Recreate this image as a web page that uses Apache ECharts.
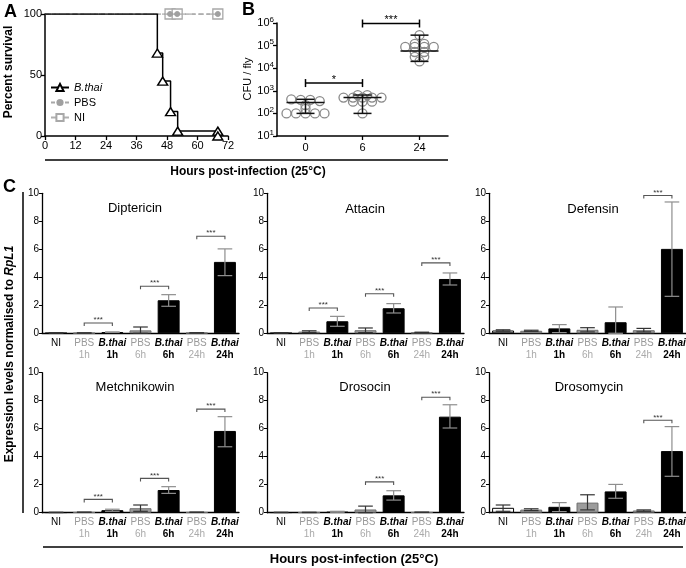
<!DOCTYPE html>
<html><head><meta charset="utf-8">
<script src="https://cdn.jsdelivr.net/npm/echarts@6/dist/echarts.min.js"></script>
<style>html,body{margin:0;padding:0;background:#fff}#c{width:686px;height:568px}</style>
</head><body><div id="c"></div>
<script>
// ---------- Panel A: survival ----------
const bthaiHours = [0, 44.2, 46.3, 49.4, 52.2, 68, 68];
const bthaiSurv  = [100, 68, 45, 20, 4, 4, 0];
const pbsHours   = [0, 49.2, 52, 68];
const pbsSurv    = [100, 100, 100, 100];
const niHours    = [0, 49.2, 52, 68];
const niSurv     = [100, 100, 100, 100];
const survXTicks = [0, 12, 24, 36, 48, 60, 72];

// ---------- Panel B: CFU per fly ----------
const cfuGroups = ['0', '6', '24'];
const cfu0h  = [420, 400, 400, 350, 230, 160, 100, 100, 100, 100, 100];
const cfu6h  = [650, 650, 500, 500, 500, 500, 500, 330, 330, 330, 100];
const cfu24h = [290000, 120000, 120000, 87000, 87000, 87000, 87000, 52000, 52000, 32000, 32000, 20000];
const cfuMedian = [300, 500, 58000];
const cfuSig = [[0, 1, 2200, '*'], [1, 2, 950000, '***']];

// ---------- Panel C: expression ----------
const conditions = ['NI', 'PBS 1h', 'B.thai 1h', 'PBS 6h', 'B.thai 6h', 'PBS 24h', 'B.thai 24h'];
const genes = ['Diptericin', 'Attacin', 'Defensin', 'Metchnikowin', 'Drosocin', 'Drosomycin'];

const diptericinMean = [0.02, 0.02, 0.08, 0.21, 2.36, 0.03, 5.10];
const diptericinHigh = [0.03, 0.03, 0.10, 0.45, 2.76, 0.04, 6.03];
const diptericinLow  = [0.01, 0.01, 0.06, 0.00, 1.93, 0.02, 4.12];
const diptericinSig  = [[1, 2, 0.74], [3, 4, 3.36], [5, 6, 6.93]];

const attacinMean = [0.02, 0.12, 0.86, 0.22, 1.79, 0.06, 3.88];
const attacinHigh = [0.03, 0.18, 1.21, 0.38, 2.12, 0.08, 4.31];
const attacinLow  = [0.01, 0.06, 0.50, 0.05, 1.45, 0.04, 3.45];
const attacinSig  = [[1, 2, 1.81], [3, 4, 2.83], [5, 6, 5.03]];

const defensinMean = [0.20, 0.18, 0.35, 0.25, 0.79, 0.22, 6.03];
const defensinHigh = [0.25, 0.22, 0.62, 0.40, 1.88, 0.35, 9.38];
const defensinLow  = [0.15, 0.14, 0.05, 0.10, 0.00, 0.10, 2.64];
const defensinSig  = [[5, 6, 9.84]];

const metchnikowinMean = [0.02, 0.03, 0.18, 0.32, 1.62, 0.03, 5.84];
const metchnikowinHigh = [0.03, 0.04, 0.25, 0.55, 1.86, 0.04, 6.86];
const metchnikowinLow  = [0.01, 0.02, 0.10, 0.10, 1.38, 0.02, 4.71];
const metchnikowinSig  = [[1, 2, 0.95], [3, 4, 2.45], [5, 6, 7.40]];

const drosocinMean = [0.02, 0.02, 0.06, 0.23, 1.24, 0.03, 6.86];
const drosocinHigh = [0.03, 0.03, 0.10, 0.47, 1.57, 0.04, 7.71];
const drosocinLow  = [0.01, 0.01, 0.03, 0.00, 0.90, 0.02, 6.05];
const drosocinSig  = [[3, 4, 2.20], [5, 6, 8.25]];

const drosomycinMean = [0.35, 0.22, 0.42, 0.72, 1.52, 0.16, 4.40];
const drosomycinHigh = [0.55, 0.28, 0.72, 1.28, 2.02, 0.20, 6.15];
const drosomycinLow  = [0.10, 0.15, 0.08, 0.20, 1.03, 0.10, 2.60];
const drosomycinSig  = [[5, 6, 6.60]];

const geneMeans = [diptericinMean, attacinMean, defensinMean, metchnikowinMean, drosocinMean, drosomycinMean];
const geneHighs = [diptericinHigh, attacinHigh, defensinHigh, metchnikowinHigh, drosocinHigh, drosomycinHigh];
const geneLows  = [diptericinLow, attacinLow, defensinLow, metchnikowinLow, drosocinLow, drosomycinLow];
const geneSigs  = [diptericinSig, attacinSig, defensinSig, metchnikowinSig, drosocinSig, drosomycinSig];

// ---------- build ----------
const FONT = "'Liberation Sans', Arial, sans-serif";
const kinds = conditions.map(c => c === 'NI' ? 'ni' : (c.startsWith('PBS') ? 'pbs' : 'bt'));

const chart = echarts.init(document.getElementById('c'), null, {renderer: 'canvas'});

const grids = [
  {left: 45, top: 14, width: 183, height: 122},
  {left: 277, top: 23, width: 171, height: 113}
];
const colLefts = [42, 267, 489];
const rowTops = [193.3, 372.7];
for (let g = 0; g < 6; g++) {
  grids.push({left: colLefts[g % 3], top: rowTops[Math.floor(g / 3)], width: 197, height: 140});
}
grids.forEach(g => { g.containLabel = false; g.outerBoundsMode = 'none'; });

const xAxes = [], yAxes = [], series = [];

// A axes
xAxes.push({type: 'value', gridIndex: 0, min: 0, max: 72, interval: 12,
  axisLine: {show: true, lineStyle: {color: '#000', width: 1.5}},
  axisTick: {show: true, length: 4, lineStyle: {color: '#000', width: 1.3}},
  splitLine: {show: false},
  axisLabel: {fontSize: 11, color: '#000', fontFamily: FONT, margin: 4}});
yAxes.push({type: 'value', gridIndex: 0, min: 0, max: 100, interval: 50,
  axisLine: {show: true, lineStyle: {color: '#000', width: 1.5}},
  axisTick: {show: true, length: 4, lineStyle: {color: '#000', width: 1.3}},
  splitLine: {show: false},
  axisLabel: {fontSize: 11, color: '#000', fontFamily: FONT, margin: 3}});

// B axes
xAxes.push({type: 'category', gridIndex: 1, data: cfuGroups, boundaryGap: true,
  axisLine: {show: true, lineStyle: {color: '#000', width: 1.5}},
  axisTick: {show: true, alignWithLabel: true, length: 4, lineStyle: {color: '#000', width: 1.3}},
  axisLabel: {fontSize: 11, color: '#000', fontFamily: FONT, margin: 6}});
yAxes.push({type: 'log', logBase: 10, gridIndex: 1, min: 10, max: 1e6,
  axisLine: {show: true, lineStyle: {color: '#000', width: 1.5}},
  axisTick: {show: true, length: 4, lineStyle: {color: '#000', width: 1.3}},
  splitLine: {show: false}, minorTick: {show: false},
  axisLabel: {fontSize: 11, color: '#000', fontFamily: FONT, margin: 3,
    formatter: v => '10{sup|' + Math.round(Math.log10(v)) + '}',
    rich: {sup: {fontSize: 8, padding: [0, 0, 7, 0], fontFamily: FONT, color: '#000'}}}});

// C axes
const labelRich = {
  ni: {fontSize: 10, color: '#000', lineHeight: 12, fontFamily: FONT},
  pbs: {fontSize: 10, color: '#9a9a9a', lineHeight: 12, fontFamily: FONT},
  pbsh: {fontSize: 10, color: '#aaaaaa', lineHeight: 12, fontFamily: FONT},
  bt: {fontSize: 10, color: '#000', fontStyle: 'italic', fontWeight: 'bold', lineHeight: 12, fontFamily: FONT},
  bth: {fontSize: 10, color: '#000', fontWeight: 'bold', lineHeight: 12, fontFamily: FONT}
};
function condLabel(v) {
  if (v === 'NI') return '{ni|NI}';
  const [a, b] = v.split(' ');
  if (a === 'PBS') return '{pbs|PBS}\n{pbsh|' + b + '}';
  return '{bt|' + a + '}\n{bth|' + b + '}';
}
for (let g = 0; g < 6; g++) {
  const gi = g + 2;
  xAxes.push({type: 'category', gridIndex: gi, data: conditions,
    axisLine: {show: true, lineStyle: {color: '#000', width: 1.3}},
    axisTick: {show: false},
    axisLabel: {interval: 0, margin: 4, formatter: condLabel, rich: labelRich, hideOverlap: false}});
  yAxes.push({type: 'value', gridIndex: gi, min: 0, max: 10, interval: 2,
    axisLine: {show: true, lineStyle: {color: '#000', width: 1.3}},
    axisTick: {show: true, length: 3, lineStyle: {color: '#000', width: 1}},
    splitLine: {show: false},
    axisLabel: {fontSize: 10, color: '#000', fontFamily: FONT, margin: 3}});
}

// A series
function survData(xs, ys) {
  return xs.map((x, i) => i === 0 ? {value: [x, ys[i]], symbol: 'none'} : [x, ys[i]]);
}
series.push({name: 'NI', type: 'line', xAxisIndex: 0, yAxisIndex: 0, step: 'end',
  data: survData(niHours, niSurv), symbol: 'rect', symbolSize: 10,
  itemStyle: {color: '#fff', borderColor: '#a8a8a8', borderWidth: 1.3},
  lineStyle: {color: '#b0b0b0', width: 1.5, type: 'dashed'}, z: 2});
series.push({name: 'PBS', type: 'line', xAxisIndex: 0, yAxisIndex: 0, step: 'end',
  data: survData(pbsHours, pbsSurv), symbol: 'circle', symbolSize: 5,
  itemStyle: {color: '#a0a0a0', borderColor: '#a0a0a0'},
  lineStyle: {color: '#a8a8a8', width: 1.5, type: [4, 3]}, z: 3});
series.push({name: 'B.thai', type: 'line', xAxisIndex: 0, yAxisIndex: 0, step: 'end',
  data: survData(bthaiHours, bthaiSurv), symbol: 'triangle', symbolSize: [10, 8],
  itemStyle: {color: '#fff', borderColor: '#000', borderWidth: 1.4},
  lineStyle: {color: '#000', width: 1.5}, z: 4});

// B series: dots with swarm layout
function swarmSlots(vals) {
  const order = vals.map((v, i) => i).sort((a, b) => vals[b] - vals[a]);
  const slots = new Array(vals.length).fill(0);
  let cluster = [];
  let start = null;
  const flush = () => {
    const n = cluster.length;
    cluster.forEach((idx, k) => { slots[idx] = k - (n - 1) / 2; });
    cluster = [];
  };
  order.forEach(i => {
    const lv = Math.log10(vals[i]);
    if (start === null || Math.abs(start - lv) > 0.1) { flush(); start = lv; }
    cluster.push(i);
  });
  flush();
  return slots;
}
const cfuAll = [cfu0h, cfu6h, cfu24h];
const dotData = [];
cfuAll.forEach((arr, gi) => {
  const s = swarmSlots(arr);
  arr.forEach((v, i) => dotData.push([gi, v, s[i]]));
});
series.push({type: 'custom', xAxisIndex: 1, yAxisIndex: 1, data: dotData, z: 3,
  renderItem: (p, api) => {
    const c = api.coord([api.value(0), api.value(1)]);
    return {type: 'circle', shape: {cx: c[0] + api.value(2) * 9.5, cy: c[1], r: 4.5},
      style: {fill: 'rgba(255,255,255,0)', stroke: '#8a8a8a', lineWidth: 1.3}};
  }});
const medData = cfuAll.map((arr, gi) => [gi, cfuMedian[gi], Math.min(...arr), Math.max(...arr)]);
series.push({type: 'custom', xAxisIndex: 1, yAxisIndex: 1, data: medData, z: 4,
  renderItem: (p, api) => {
    const m = api.coord([api.value(0), api.value(1)]);
    const lo = api.coord([api.value(0), api.value(2)]);
    const hi = api.coord([api.value(0), api.value(3)]);
    const st = {stroke: '#111', lineWidth: 1.5};
    return {type: 'group', children: [
      {type: 'line', shape: {x1: m[0] - 19, y1: m[1], x2: m[0] + 19, y2: m[1]}, style: st},
      {type: 'line', shape: {x1: m[0], y1: lo[1], x2: m[0], y2: hi[1]}, style: st},
      {type: 'line', shape: {x1: m[0] - 9, y1: lo[1], x2: m[0] + 9, y2: lo[1]}, style: st},
      {type: 'line', shape: {x1: m[0] - 9, y1: hi[1], x2: m[0] + 9, y2: hi[1]}, style: st}
    ]};
  }});
series.push({type: 'custom', xAxisIndex: 1, yAxisIndex: 1, data: cfuSig.map(s => [s[0], s[1], s[2]]), z: 5,
  renderItem: (p, api) => {
    const a = api.coord([api.value(0), api.value(2)]);
    const b = api.coord([api.value(1), api.value(2)]);
    const st = {stroke: '#000', lineWidth: 1.5};
    return {type: 'group', children: [
      {type: 'line', shape: {x1: a[0], y1: a[1], x2: b[0], y2: b[1]}, style: st},
      {type: 'line', shape: {x1: a[0], y1: a[1] - 4, x2: a[0], y2: a[1] + 4}, style: st},
      {type: 'line', shape: {x1: b[0], y1: b[1] - 4, x2: b[0], y2: b[1] + 4}, style: st},
      {type: 'text', style: {text: cfuSig[p.dataIndex][3], x: (a[0] + b[0]) / 2, y: a[1] + 2,
        align: 'center', verticalAlign: 'bottom', fontSize: 11, fontFamily: FONT, fill: '#000'}}
    ]};
  }});

// C series
for (let g = 0; g < 6; g++) {
  const ai = g + 2;
  const means = geneMeans[g], highs = geneHighs[g], lows = geneLows[g];
  series.push({type: 'bar', xAxisIndex: ai, yAxisIndex: ai, barWidth: '78%',
    data: means.map((m, i) => ({value: m, itemStyle:
      kinds[i] === 'ni' ? {color: '#fff', borderColor: '#000', borderWidth: 1} :
      kinds[i] === 'pbs' ? {color: '#9c9c9c', borderColor: '#6e6e6e', borderWidth: 1} :
      {color: '#000', borderColor: '#000', borderWidth: 1}})), z: 2});
  series.push({type: 'custom', xAxisIndex: ai, yAxisIndex: ai, z: 3,
    data: means.map((m, i) => [i, lows[i], highs[i]]),
    renderItem: (p, api) => {
      const i = api.value(0);
      const lo = api.coord([i, api.value(1)]);
      const hi = api.coord([i, api.value(2)]);
      const hw = api.size([1, 0])[0] * 0.26;
      const col = kinds[i] === 'bt' ? '#8e8e8e' : '#333';
      const st = {stroke: col, lineWidth: 1.2};
      const x = lo[0];
      return {type: 'group', children: [
        {type: 'line', shape: {x1: x, y1: lo[1], x2: x, y2: hi[1]}, style: st},
        {type: 'line', shape: {x1: x - hw, y1: hi[1], x2: x + hw, y2: hi[1]}, style: st},
        {type: 'line', shape: {x1: x - hw, y1: lo[1], x2: x + hw, y2: lo[1]}, style: st}
      ]};
    }});
  series.push({type: 'custom', xAxisIndex: ai, yAxisIndex: ai, z: 4,
    data: geneSigs[g],
    renderItem: (p, api) => {
      const a = api.coord([api.value(0), api.value(2)]);
      const b = api.coord([api.value(1), api.value(2)]);
      return {type: 'group', children: [
        {type: 'polyline', shape: {points: [[a[0], a[1] + 3], [a[0], a[1]], [b[0], b[1]], [b[0], b[1] + 3]]},
          style: {stroke: '#555', lineWidth: 1.1, fill: null}},
        {type: 'text', style: {text: '***', x: (a[0] + b[0]) / 2, y: a[1] + 1, align: 'center',
          verticalAlign: 'bottom', fontSize: 8, fontFamily: FONT, fill: '#333'}}
      ]};
    }});
}

// graphics: labels, titles, shared lines
const titlePos = [[135, 208], [365, 209], [593, 209], [135, 387], [365, 387], [589, 387]];
const graphic = [
  {type: 'text', left: 4, top: 3, style: {text: 'A', fontSize: 18, fontWeight: 'bold', fontFamily: FONT, fill: '#000'}},
  {type: 'text', left: 242, top: 1, style: {text: 'B', fontSize: 18, fontWeight: 'bold', fontFamily: FONT, fill: '#000'}},
  {type: 'text', left: 3, top: 178, style: {text: 'C', fontSize: 18, fontWeight: 'bold', fontFamily: FONT, fill: '#000'}},
  {type: 'text', x: 9, y: 72, rotation: Math.PI / 2,
    style: {text: 'Percent survival', fontSize: 12, fontWeight: 'bold', fontFamily: FONT, fill: '#000', align: 'center', verticalAlign: 'middle'}},
  {type: 'text', x: 248, y: 79, rotation: Math.PI / 2,
    style: {text: 'CFU / fly', fontSize: 11, fontFamily: FONT, fill: '#000', align: 'center', verticalAlign: 'middle'}},
  {type: 'line', shape: {x1: 45, y1: 160, x2: 448, y2: 160}, style: {stroke: '#000', lineWidth: 1.5}},
  {type: 'text', x: 248, y: 172, style: {text: 'Hours post-infection (25°C)', fontSize: 12, fontWeight: 'bold', fontFamily: FONT, fill: '#000', align: 'center', verticalAlign: 'middle'}},
  {type: 'line', shape: {x1: 23, y1: 192, x2: 23, y2: 513}, style: {stroke: '#000', lineWidth: 1.5}},
  {type: 'text', x: 10, y: 354, rotation: Math.PI / 2,
    style: {text: '{n|Expression levels normalised to }{i|RpL1}', align: 'center', verticalAlign: 'middle',
      rich: {n: {fontSize: 12, fontWeight: 'bold', fontFamily: FONT, fill: '#000'},
             i: {fontSize: 12, fontWeight: 'bold', fontStyle: 'italic', fontFamily: FONT, fill: '#000'}}}},
  {type: 'line', shape: {x1: 43, y1: 547, x2: 683, y2: 547}, style: {stroke: '#000', lineWidth: 1.5}},
  {type: 'text', x: 354, y: 559, style: {text: 'Hours post-infection (25°C)', fontSize: 13, fontWeight: 'bold', fontFamily: FONT, fill: '#000', align: 'center', verticalAlign: 'middle'}}
];
genes.forEach((gname, g) => {
  graphic.push({type: 'text', x: titlePos[g][0], y: titlePos[g][1],
    style: {text: gname, fontSize: 13, fontFamily: FONT, fill: '#000', align: 'center', verticalAlign: 'middle'}});
});

chart.setOption({
  animation: false,
  backgroundColor: '#fff',
  textStyle: {fontFamily: FONT},
  grid: grids,
  xAxis: xAxes,
  yAxis: yAxes,
  legend: {data: ['B.thai', 'PBS', 'NI'], orient: 'vertical', left: 50, top: 82, itemGap: 4,
    itemWidth: 18, itemHeight: 9, padding: 0,
    formatter: n => n === 'B.thai' ? '{i|B.thai}' : n,
    textStyle: {fontSize: 11, fontFamily: FONT, color: '#000',
      rich: {i: {fontStyle: 'italic', fontSize: 11, fontFamily: FONT, color: '#000'}}}},
  series: series,
  graphic: graphic
});
</script>
</body></html>
